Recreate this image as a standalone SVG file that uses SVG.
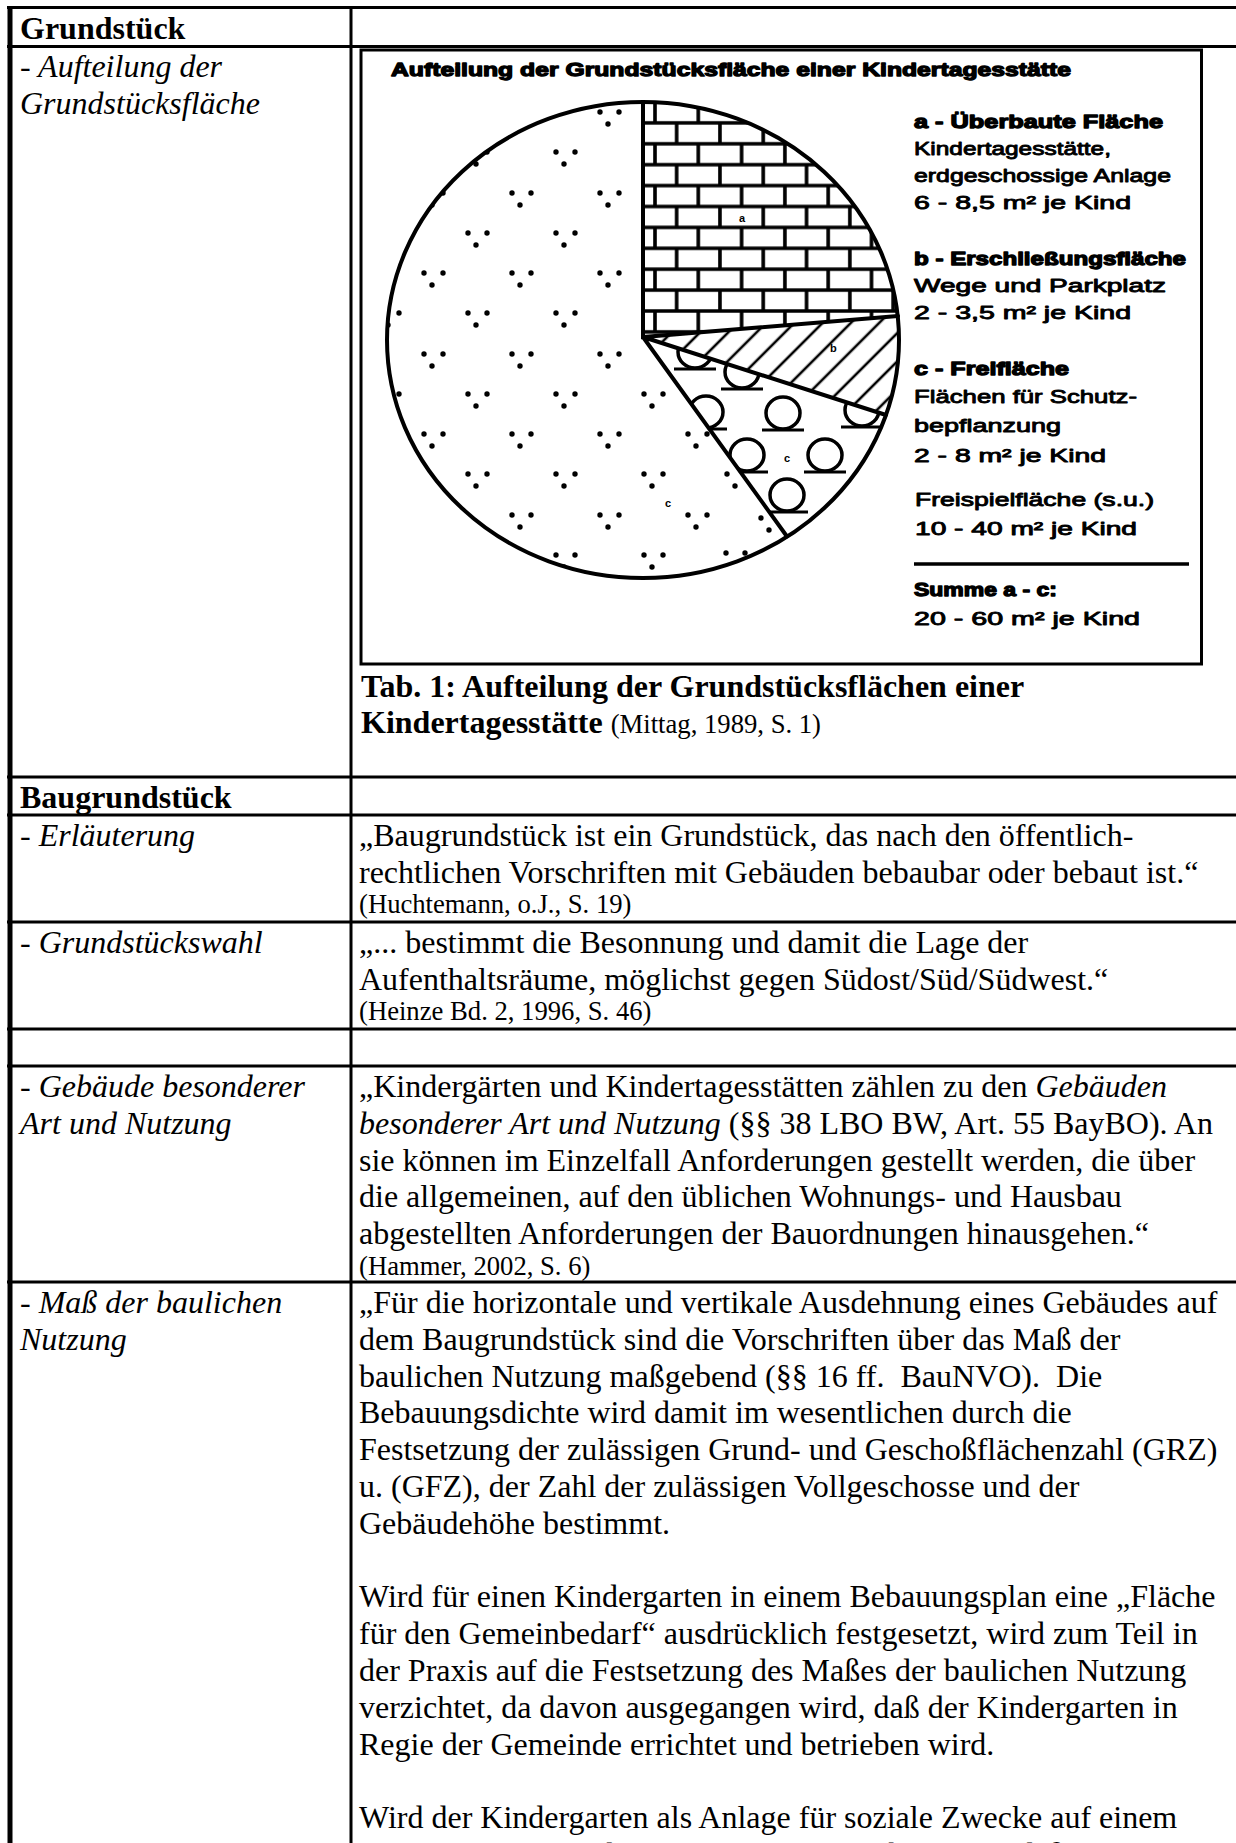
<svg xmlns="http://www.w3.org/2000/svg" xmlns:xlink="http://www.w3.org/1999/xlink" width="1236" height="1843" viewBox="0 0 1236 1843">
<style>
.t{font-family:"Liberation Serif","Times New Roman",serif;font-size:32px;fill:#000}
.b{font-weight:bold}
.i{font-style:italic}
.s{font-size:26.67px}
.lg{font-family:"Liberation Sans",Arial,sans-serif;font-size:19px;fill:#000;stroke:#000;stroke-width:0.9;stroke-linejoin:round}
.lh{font-weight:bold;stroke-width:1.3}
.lbl{font-family:"Liberation Sans",Arial,sans-serif;font-size:11px;font-weight:bold;fill:#000}
.rule{stroke:#000;stroke-width:3;fill:none}
.pie{stroke:#000;stroke-width:4;fill:none;stroke-linecap:round}
</style>
<defs>
<pattern id="brick" patternUnits="userSpaceOnUse" x="655" y="102" width="43.3" height="41.8">
<rect width="43.3" height="41.8" fill="#fff"/>
<path d="M0,0H43.3M0,20.9H43.3M0,41.8H43.3M0,0V20.9M43.3,0V20.9M21.65,20.9V41.8" stroke="#000" stroke-width="3.6" fill="none"/>
</pattern>
<pattern id="hatch" patternUnits="userSpaceOnUse" width="20" height="20" patternTransform="rotate(45)">
<rect width="20" height="20" fill="#fff"/>
<line x1="10" y1="-2" x2="10" y2="22" stroke="#000" stroke-width="2.6"/>
</pattern>
<g id="tri"><circle cx="-9" cy="-4" r="2.7"/><circle cx="10" cy="-4" r="2.7"/><circle cx="-1" cy="8" r="2.7"/></g>
<g id="tree"><ellipse cx="0" cy="0" rx="17" ry="16" fill="#fff" stroke="#000" stroke-width="3.5"/><line x1="-21" y1="17" x2="21" y2="17" stroke="#000" stroke-width="3"/></g>
<clipPath id="clipD"><path d="M643,337 L787,536.5 A256,238 0 1,1 643,102 Z"/></clipPath>
<clipPath id="clipC"><path d="M643,337 L886,415 A256,238 0 0,1 787,536.5 Z"/></clipPath>
</defs>
<rect width="1236" height="1843" fill="#fff"/>

<g id="table-lines">
<line class="rule" x1="7" y1="7.5" x2="1236" y2="7.5"/>
<line class="rule" x1="7" y1="46.5" x2="1236" y2="46.5"/>
<line class="rule" x1="7" y1="777" x2="1236" y2="777"/>
<line class="rule" x1="7" y1="815" x2="1236" y2="815"/>
<line class="rule" x1="7" y1="922" x2="1236" y2="922"/>
<line class="rule" x1="7" y1="1029" x2="1236" y2="1029"/>
<line class="rule" x1="7" y1="1066" x2="1236" y2="1066"/>
<line class="rule" x1="7" y1="1282" x2="1236" y2="1282"/>
<line x1="10" y1="6" x2="10" y2="1843" stroke="#000" stroke-width="5"/>
<line class="rule" x1="351" y1="6" x2="351" y2="1843"/>
</g>

<g id="connectors"></g>

<g id="row-grundstueck">
<text class="t b" x="20" y="38.5">Grundstück</text>
</g>

<g id="row-aufteilung">
<text class="t i" x="20" y="77">- Aufteilung der</text>
<text class="t i" x="20" y="113.8">Grundstücksfläche</text>
</g>

<g id="figure">
<rect x="361" y="50" width="840.5" height="614" fill="#fff" stroke="#000" stroke-width="3"/>
<text class="lg lh" x="391" y="76" font-size="18" textLength="680" lengthAdjust="spacingAndGlyphs">Aufteilung der Grundstücksfläche einer Kindertagesstätte</text>
<g id="pie">
<path d="M643,337 L643,102 A256,238 0 0,1 898,316 Z" fill="url(#brick)"/>
<path d="M643,337 L898,316 A256,238 0 0,1 886,415 Z" fill="url(#hatch)"/>
<path d="M643,337 L886,415 A256,238 0 0,1 787,536.5 Z" fill="#fff"/>
<g clip-path="url(#clipC)">
<use xlink:href="#tree" x="695" y="352"/>
<use xlink:href="#tree" x="742" y="372"/>
<use xlink:href="#tree" x="706" y="412"/>
<use xlink:href="#tree" x="783" y="413"/>
<use xlink:href="#tree" x="862" y="410"/>
<use xlink:href="#tree" x="747" y="455"/>
<use xlink:href="#tree" x="825" y="455"/>
<use xlink:href="#tree" x="787" y="495"/>
</g>
<g clip-path="url(#clipD)" fill="#000">
<use xlink:href="#tri" x="609" y="116"/><use xlink:href="#tri" x="521" y="116"/>
<use xlink:href="#tri" x="477" y="156"/><use xlink:href="#tri" x="565" y="156"/>
<use xlink:href="#tri" x="433" y="197"/><use xlink:href="#tri" x="521" y="197"/><use xlink:href="#tri" x="609" y="197"/>
<use xlink:href="#tri" x="389" y="237"/><use xlink:href="#tri" x="477" y="237"/><use xlink:href="#tri" x="565" y="237"/>
<use xlink:href="#tri" x="433" y="277"/><use xlink:href="#tri" x="521" y="277"/><use xlink:href="#tri" x="609" y="277"/>
<use xlink:href="#tri" x="389" y="317"/><use xlink:href="#tri" x="477" y="317"/><use xlink:href="#tri" x="565" y="317"/>
<use xlink:href="#tri" x="433" y="358"/><use xlink:href="#tri" x="521" y="358"/><use xlink:href="#tri" x="609" y="358"/>
<use xlink:href="#tri" x="389" y="398"/><use xlink:href="#tri" x="477" y="398"/><use xlink:href="#tri" x="565" y="398"/><use xlink:href="#tri" x="653" y="398"/>
<use xlink:href="#tri" x="433" y="438"/><use xlink:href="#tri" x="521" y="438"/><use xlink:href="#tri" x="609" y="438"/><use xlink:href="#tri" x="697" y="438"/>
<use xlink:href="#tri" x="477" y="478"/><use xlink:href="#tri" x="565" y="478"/><use xlink:href="#tri" x="653" y="478"/><use xlink:href="#tri" x="736" y="478"/>
<use xlink:href="#tri" x="521" y="519"/><use xlink:href="#tri" x="609" y="519"/><use xlink:href="#tri" x="697" y="519"/><use xlink:href="#tri" x="770" y="522"/>
<use xlink:href="#tri" x="565" y="559"/><use xlink:href="#tri" x="653" y="559"/><use xlink:href="#tri" x="735" y="557"/>
</g>
<ellipse class="pie" cx="643" cy="340" rx="256" ry="238"/>
<path class="pie" d="M643,102 L643,337 L898,316 M643,337 L886,415 M643,337 L787,536.5"/>
<text class="lbl" x="739" y="222">a</text>
<text class="lbl" x="830" y="352">b</text>
<text class="lbl" x="784" y="462">c</text>
<text class="lbl" x="665" y="507">c</text>
</g>
<g id="legend">
<text class="lg lh" x="914" y="128" textLength="249" lengthAdjust="spacingAndGlyphs">a - Überbaute Fläche</text>
<text class="lg" x="914" y="155" textLength="197" lengthAdjust="spacingAndGlyphs">Kindertagesstätte,</text>
<text class="lg" x="914" y="182" textLength="257" lengthAdjust="spacingAndGlyphs">erdgeschossige Anlage</text>
<text class="lg" x="914" y="209" textLength="217" lengthAdjust="spacingAndGlyphs">6 - 8,5 m² je Kind</text>
<text class="lg lh" x="914" y="265" textLength="272" lengthAdjust="spacingAndGlyphs">b - Erschließungsfläche</text>
<text class="lg" x="914" y="292" textLength="252" lengthAdjust="spacingAndGlyphs">Wege und Parkplatz</text>
<text class="lg" x="914" y="319" textLength="217" lengthAdjust="spacingAndGlyphs">2 - 3,5 m² je Kind</text>
<text class="lg lh" x="914" y="375" textLength="155" lengthAdjust="spacingAndGlyphs">c - Freifläche</text>
<text class="lg" x="914" y="403" textLength="223" lengthAdjust="spacingAndGlyphs">Flächen für Schutz-</text>
<text class="lg" x="914" y="432" textLength="147" lengthAdjust="spacingAndGlyphs">bepflanzung</text>
<text class="lg" x="914" y="462" textLength="192" lengthAdjust="spacingAndGlyphs">2 - 8 m² je Kind</text>
<text class="lg" x="915" y="506" textLength="239" lengthAdjust="spacingAndGlyphs">Freispielfläche (s.u.)</text>
<text class="lg" x="915" y="535" textLength="222" lengthAdjust="spacingAndGlyphs">10 - 40 m² je Kind</text>
<line x1="914" y1="564" x2="1189" y2="564" stroke="#000" stroke-width="3.5"/>
<text class="lg lh" x="914" y="596" textLength="143" lengthAdjust="spacingAndGlyphs">Summe a - c:</text>
<text class="lg" x="914" y="625" textLength="226" lengthAdjust="spacingAndGlyphs">20 - 60 m² je Kind</text>
</g>
<text class="t b" x="361" y="697">Tab. 1: Aufteilung der Grundstücksflächen einer</text>
<text class="t" x="361" y="733"><tspan class="b">Kindertagesstätte</tspan> <tspan class="s">(Mittag, 1989, S. 1)</tspan></text>
</g>

<g id="row-baugrundstueck">
<text class="t b" x="20" y="808">Baugrundstück</text>
</g>

<g id="row-erlaeuterung">
<text class="t i" x="20" y="846">- Erläuterung</text>
<text class="t" x="359" y="846">„Baugrundstück ist ein Grundstück, das nach den öffentlich-</text>
<text class="t" x="359" y="882.8">rechtlichen Vorschriften mit Gebäuden bebaubar oder bebaut ist.“</text>
<text class="t s" x="359" y="913.3">(Huchtemann, o.J., S. 19)</text>
</g>

<g id="row-grundstueckswahl">
<text class="t i" x="20" y="953">- Grundstückswahl</text>
<text class="t" x="359" y="953">„... bestimmt die Besonnung und damit die Lage der</text>
<text class="t" x="359" y="989.8">Aufenthaltsräume, möglichst gegen Südost/Süd/Südwest.“</text>
<text class="t s" x="359" y="1020.3">(Heinze Bd. 2, 1996, S. 46)</text>
</g>

<g id="row-empty"></g>

<g id="row-gebaeude">
<text class="t i" x="20" y="1097">- Gebäude besonderer</text>
<text class="t i" x="20" y="1133.8">Art und Nutzung</text>
<text class="t" x="359" y="1097">„Kindergärten und Kindertagesstätten zählen zu den <tspan class="i">Gebäuden</tspan></text>
<text class="t" x="359" y="1133.8"><tspan class="i">besonderer Art und Nutzung</tspan> (§§ 38 LBO BW, Art. 55 BayBO). An</text>
<text class="t" x="359" y="1170.6">sie können im Einzelfall Anforderungen gestellt werden, die über</text>
<text class="t" x="359" y="1207.4">die allgemeinen, auf den üblichen Wohnungs- und Hausbau</text>
<text class="t" x="359" y="1244.2">abgestellten Anforderungen der Bauordnungen hinausgehen.“</text>
<text class="t s" x="359" y="1274.7">(Hammer, 2002, S. 6)</text>
</g>

<g id="row-mass">
<text class="t i" x="20" y="1313">- Maß der baulichen</text>
<text class="t i" x="20" y="1349.8">Nutzung</text>
<text class="t" x="359" y="1313">„Für die horizontale und vertikale Ausdehnung eines Gebäudes auf</text>
<text class="t" x="359" y="1349.8">dem Baugrundstück sind die Vorschriften über das Maß der</text>
<text class="t" x="359" y="1386.6">baulichen Nutzung maßgebend (§§ 16 ff. &#160;BauNVO). &#160;Die</text>
<text class="t" x="359" y="1423.4">Bebauungsdichte wird damit im wesentlichen durch die</text>
<text class="t" x="359" y="1460.2">Festsetzung der zulässigen Grund- und Geschoßflächenzahl (GRZ)</text>
<text class="t" x="359" y="1497">u. (GFZ), der Zahl der zulässigen Vollgeschosse und der</text>
<text class="t" x="359" y="1533.8">Gebäudehöhe bestimmt.</text>
<text class="t" x="359" y="1607.4">Wird für einen Kindergarten in einem Bebauungsplan eine „Fläche</text>
<text class="t" x="359" y="1644.2">für den Gemeinbedarf“ ausdrücklich festgesetzt, wird zum Teil in</text>
<text class="t" x="359" y="1681">der Praxis auf die Festsetzung des Maßes der baulichen Nutzung</text>
<text class="t" x="359" y="1717.8">verzichtet, da davon ausgegangen wird, daß der Kindergarten in</text>
<text class="t" x="359" y="1754.6">Regie der Gemeinde errichtet und betrieben wird.</text>
<text class="t" x="359" y="1828.2">Wird der Kindergarten als Anlage für soziale Zwecke auf einem</text>
<text class="t" x="359" y="1865">normalen Baugrundstück errichtet, ist zu beachten, daß <tspan class="i">Stellplätze</tspan></text>
</g>
</svg>
